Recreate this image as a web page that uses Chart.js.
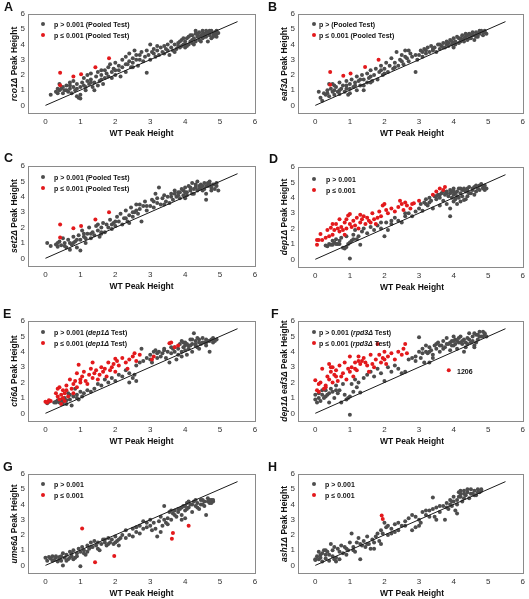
<!DOCTYPE html>
<html>
<head>
<meta charset="utf-8">
<script src="https://cdn.jsdelivr.net/npm/chart.js@4/dist/chart.umd.min.js"></script>
<style>
  body { margin: 0; background: #fff; font-family: "Liberation Sans", Arial, sans-serif; }
  #fig { position: relative; width: 529px; height: 599px; overflow: hidden; }
  .panel { position: absolute; width: 265px; height: 150px; }
  .txt { position: absolute; white-space: nowrap; font-weight: bold; color: #111; line-height: 1; }
  .dot { position: absolute; width: 4px; height: 4px; border-radius: 50%; }
</style>
</head>
<body>
<div id="fig"></div>
<script>
// tick labels on both axes
const xTicks = [0, 1, 2, 3, 4, 5, 6];
const yTicks = [0, 1, 2, 3, 4, 5, 6];
// y = x reference line, from 0 to 5.5
const refLine = [0, 5.5];

// A: rco1
const aGray = [[0.15,0.7],[0.3,0.9],[0.35,0.8],[0.4,1.0],[0.45,1.1],[0.5,0.8],[0.5,1.2],[0.4,1.4],[0.6,1.0],[0.6,1.3],[0.65,0.9],[0.7,1.1],[0.7,1.5],[0.75,0.8],[0.8,1.2],[0.8,1.6],[0.85,1.0],[0.9,1.4],[0.9,0.6],[0.95,0.5],[1.0,0.45],[1.0,0.7],[1.0,1.2],[1.05,1.5],[1.1,1.3],[1.1,1.8],[1.15,1.0],[1.2,1.6],[1.2,2.0],[1.25,1.4],[1.3,1.7],[1.3,2.1],[1.35,1.2],[1.4,1.5],[1.4,1.0],[1.45,1.9],[1.5,1.3],[1.5,2.2],[1.55,1.6],[1.6,2.0],[1.65,1.4],[1.7,1.8],[1.7,2.3],[1.75,2.1],[1.8,2.5],[1.8,1.9],[1.85,2.7],[1.9,2.2],[1.95,2.4],[2.0,2.0],[2.0,2.8],[2.1,2.3],[2.1,2.6],[2.15,1.9],[2.2,2.5],[2.2,3.0],[2.3,2.2],[2.3,3.2],[2.35,2.7],[2.4,2.9],[2.4,3.4],[2.45,2.5],[2.5,3.1],[2.5,2.8],[2.55,3.6],[2.6,3.3],[2.65,2.6],[2.7,3.0],[2.75,3.5],[2.8,2.9],[2.85,3.2],[2.9,2.15],[2.95,3.3],[3.0,3.0],[3.0,4.0],[3.05,3.5],[3.1,3.7],[3.15,3.2],[3.2,3.6],[3.25,3.3],[3.3,3.8],[3.35,3.5],[3.4,3.4],[3.45,3.7],[3.5,3.6],[3.5,4.0],[3.55,3.3],[3.6,3.8],[3.65,3.6],[3.7,4.0],[3.75,3.7],[3.8,4.1],[3.85,3.8],[3.9,3.9],[3.9,4.3],[3.95,4.0],[4.0,4.2],[4.0,3.8],[4.05,4.4],[4.1,4.0],[4.1,4.5],[4.15,4.2],[4.2,4.6],[4.2,4.1],[4.25,4.4],[4.3,4.7],[4.3,4.2],[4.35,4.5],[4.4,4.8],[4.4,4.3],[4.45,4.6],[4.5,4.4],[4.5,4.9],[4.55,4.7],[4.6,4.5],[4.6,4.9],[4.65,4.2],[4.7,4.8],[4.7,4.6],[4.75,4.9],[4.8,4.7],[4.8,4.5],[4.85,4.8],[4.9,4.7],[4.9,4.5],[4.95,4.75],
  [3.6,4.2],[3.7,3.5],[3.8,3.9],[3.95,4.4],[4.05,3.9],[4.15,4.6],[4.25,4.0],[4.35,4.7],[4.45,4.2],[4.55,4.5],[4.65,4.8],[4.75,4.4],[4.85,4.6],[4.6,4.7],[4.4,4.5],[4.2,4.3],[4.0,4.0],[3.85,4.2],[3.2,3.9],[3.1,3.4],[2.9,3.6],[2.6,3.0],[2.3,2.7],[2.0,2.3],[1.9,1.8],[1.6,1.7],[1.3,1.5],[1.15,1.2],[0.9,1.1],[0.7,1.3],[0.55,1.0],[0.35,1.1],[1.6,2.3],[2.5,2.5],[2.7,3.3],[3.4,3.9],[4.3,4.9],[4.5,4.7],[4.7,4.9],[4.9,4.9]];
const aRed = [[0.42,2.15],[0.42,1.32],[0.8,1.9],[1.02,2.05],[1.43,2.5],[1.82,3.1]];

// B: eaf3
const bGray = [[0.1,0.9],[0.15,0.5],[0.2,0.3],[0.25,0.8],[0.3,0.7],[0.35,1.0],[0.4,0.6],[0.45,1.1],[0.5,0.9],[0.5,1.4],[0.55,0.7],[0.6,1.2],[0.65,0.9],[0.7,1.5],[0.7,0.75],[0.75,1.1],[0.8,1.3],[0.85,0.9],[0.9,1.6],[0.9,1.1],[0.95,0.7],[1.0,1.4],[1.0,0.8],[1.05,1.7],[1.1,1.2],[1.15,1.5],[1.2,1.9],[1.2,1.0],[1.25,1.6],[1.3,1.3],[1.35,2.0],[1.4,1.0],[1.4,1.7],[1.5,1.5],[1.5,2.1],[1.55,1.8],[1.6,2.3],[1.65,1.6],[1.7,2.0],[1.75,2.4],[1.8,1.7],[1.85,2.2],[1.9,2.6],[1.95,2.0],[2.0,2.4],[2.05,2.8],[2.1,2.2],[2.15,2.6],[2.2,3.1],[2.25,2.4],[2.3,2.8],[2.35,3.5],[2.4,2.6],[2.45,3.0],[2.5,3.3],[2.55,2.7],[2.6,3.6],[2.65,3.1],[2.7,2.9],[2.75,3.4],[2.8,3.2],[2.9,2.2],[2.95,3.0],[3.0,3.3],[3.05,3.6],[3.1,3.2],[3.15,3.7],[3.2,3.4],[3.25,3.8],[3.3,3.5],[3.35,3.9],[3.4,3.6],[3.45,3.8],[3.5,3.5],[3.55,4.0],[3.6,3.7],[3.65,3.9],[3.7,4.1],[3.75,3.8],[3.8,4.2],[3.85,3.9],[3.9,4.3],[3.95,4.0],[4.0,4.4],[4.0,3.8],[4.05,4.2],[4.1,4.5],[4.15,4.1],[4.2,4.4],[4.25,4.6],[4.3,4.2],[4.35,4.5],[4.4,4.3],[4.45,4.7],[4.5,4.4],[4.55,4.6],[4.6,4.3],[4.65,4.8],[4.7,4.5],[4.75,4.7],[4.8,4.9],[4.85,4.6],[4.9,4.8],[4.95,4.7],[0.4,1.4],[0.55,1.3],
  [3.6,4.0],[3.7,3.8],[3.8,4.0],[3.95,4.2],[4.05,4.0],[4.15,4.4],[4.25,4.3],[4.35,4.7],[4.45,4.4],[4.55,4.8],[4.65,4.5],[4.75,4.9],[4.85,4.8],[4.6,4.6],[4.4,4.6],[4.2,4.2],[4.0,4.1],[3.85,4.1],[3.2,3.6],[3.1,3.5],[2.9,3.3],[2.6,3.2],[2.3,2.5],[2.0,2.1],[1.9,2.3],[1.6,1.9],[1.3,1.7],[1.15,1.3],[0.9,1.3],[0.7,1.0],[0.55,1.0],[0.35,0.8],[1.6,1.5],[2.5,2.9],[2.7,3.6],[3.4,3.7],[4.3,4.4],[4.5,4.6],[4.7,4.7],[4.9,4.9],[1.4,1.3],[1.0,1.1]];
const bRed = [[0.43,2.2],[0.43,1.35],[0.81,1.95],[1.02,2.1],[1.44,2.52],[1.83,3.0]];

// C: set2
const cGray = [[0.05,1.0],[0.15,0.8],[0.3,0.9],[0.35,0.75],[0.4,1.1],[0.45,0.85],[0.5,1.3],[0.55,1.0],[0.6,0.7],[0.65,1.2],[0.7,0.55],[0.75,0.9],[0.8,1.4],[0.85,1.1],[0.9,0.7],[0.95,1.5],[1.0,0.5],[1.0,1.2],[1.05,1.8],[1.1,1.4],[1.15,1.0],[1.2,1.6],[1.25,2.0],[1.3,1.3],[1.35,1.7],[1.4,1.5],[1.45,2.1],[1.5,1.8],[1.55,1.4],[1.6,2.0],[1.65,2.3],[1.7,1.7],[1.75,2.2],[1.8,2.0],[1.85,2.5],[1.9,1.9],[1.95,2.3],[2.0,2.1],[2.05,2.7],[2.1,2.4],[2.15,2.9],[2.2,2.2],[2.25,2.6],[2.3,3.1],[2.35,2.4],[2.4,2.8],[2.45,3.3],[2.5,2.7],[2.55,3.0],[2.6,3.5],[2.65,2.9],[2.7,3.2],[2.75,2.4],[2.8,3.4],[2.85,3.7],[2.9,3.1],[3.0,3.4],[3.05,3.8],[3.1,3.3],[3.15,4.2],[3.2,3.6],[3.25,4.6],[3.3,3.5],[3.35,3.9],[3.4,4.1],[3.45,3.7],[3.5,4.0],[3.55,3.6],[3.6,4.2],[3.65,3.8],[3.7,4.4],[3.75,4.0],[3.8,4.3],[3.85,3.9],[3.9,4.5],[3.95,4.1],[4.0,4.6],[4.0,3.9],[4.05,4.3],[4.1,4.7],[4.15,4.4],[4.2,4.9],[4.25,4.2],[4.3,4.6],[4.35,5.0],[4.4,4.5],[4.45,4.8],[4.5,4.4],[4.55,4.9],[4.6,4.2],[4.6,3.8],[4.65,4.7],[4.7,5.0],[4.75,4.6],[4.8,4.8],[4.85,4.5],[4.9,4.7],[4.95,4.4],[2.4,2.3],[1.5,2.2],
  [3.6,4.0],[3.7,4.2],[3.8,4.1],[3.95,4.4],[4.05,4.1],[4.15,4.6],[4.25,4.5],[4.35,4.4],[4.45,4.6],[4.55,4.5],[4.65,4.9],[4.75,4.4],[4.85,4.8],[4.6,4.7],[4.4,4.7],[4.2,4.2],[4.0,4.3],[3.85,4.3],[3.2,3.9],[3.1,3.7],[2.9,3.4],[2.6,3.1],[2.3,2.6],[2.0,2.4],[1.9,2.2],[1.6,1.7],[1.3,1.6],[1.15,1.3],[0.9,1.2],[0.7,1.0],[0.55,0.8],[0.35,1.0],[1.6,1.6],[2.5,3.0],[2.7,3.5],[3.4,3.5],[4.3,4.8],[4.5,4.7],[4.7,4.8],[4.9,4.9],[1.1,1.6],[0.8,1.0]];
const cRed = [[0.42,2.2],[0.42,1.35],[0.8,1.95],[1.02,2.1],[1.43,2.52],[1.82,3.0]];

// D: dep1
const dGray = [[0.3,0.9],[0.35,0.85],[0.4,1.0],[0.45,0.95],[0.5,1.2],[0.55,1.1],[0.6,1.3],[0.65,1.0],[0.7,1.2],[0.75,1.4],[0.8,0.75],[0.85,0.7],[0.9,0.8],[0.9,1.5],[0.95,1.0],[1.0,0.05],[1.0,1.1],[1.05,1.2],[1.1,1.6],[1.15,1.9],[1.2,1.3],[1.25,1.5],[1.3,0.95],[1.35,1.8],[1.4,2.0],[1.5,1.7],[1.6,2.1],[1.7,1.9],[1.8,2.2],[1.9,2.0],[2.0,1.5],[2.05,2.4],[2.1,1.9],[2.2,2.3],[2.3,2.7],[2.4,2.5],[2.5,2.4],[2.6,2.8],[2.7,3.0],[2.8,2.8],[2.9,3.1],[3.0,3.3],[3.05,3.6],[3.1,3.15],[3.15,3.7],[3.2,3.9],[3.25,3.5],[3.3,4.0],[3.35,3.8],[3.4,3.3],[3.45,4.1],[3.5,3.9],[3.55,4.2],[3.6,4.0],[3.65,4.3],[3.7,3.8],[3.75,4.2],[3.8,4.4],[3.85,4.1],[3.9,2.8],[3.9,3.3],[3.9,4.5],[3.95,4.0],[4.0,4.6],[4.0,4.2],[4.05,3.9],[4.1,4.4],[4.15,4.6],[4.2,4.3],[4.25,4.1],[4.3,4.5],[4.35,3.9],[4.4,4.4],[4.45,4.7],[4.5,4.3],[4.55,4.5],[4.6,4.7],[4.65,4.4],[4.7,4.6],[4.75,4.8],[4.8,4.9],[4.85,4.6],[4.9,4.5],[4.95,4.6],[4.0,3.75],[4.1,3.6],[4.2,3.75],[4.3,3.85],[4.4,4.1],[4.6,4.2],[3.8,3.6],[3.6,3.5],
  [3.8,4.3],[3.95,4.4],[4.05,4.3],[4.15,4.0],[4.25,4.5],[4.35,4.4],[4.45,4.3],[4.55,4.6],[4.65,4.8],[4.75,4.5],[4.85,4.7],[4.0,4.4],[4.2,4.6],[4.4,4.6],[3.7,4.4],[3.6,4.2],[3.5,4.1],[3.3,3.7],[3.2,3.6],[2.6,3.0],[2.2,2.5],[1.9,2.4],[0.6,1.0],[0.5,0.95],[0.7,1.0],[1.1,1.3],[4.9,4.8],[4.1,4.1],[3.9,4.3],[4.3,4.6]];
const dRed = [[0.05,1.25],[0.05,0.95],[0.1,1.25],[0.15,1.65],[0.2,1.25],[0.3,1.4],[0.35,1.9],[0.4,1.5],[0.45,2.05],[0.5,2.3],[0.5,1.6],[0.55,1.9],[0.6,2.3],[0.65,2.0],[0.7,2.6],[0.7,1.8],[0.75,2.1],[0.8,1.9],[0.85,2.4],[0.85,1.6],[0.9,2.6],[0.9,2.0],[0.95,2.85],[1.0,2.95],[1.0,2.3],[1.05,2.1],[1.1,2.5],[1.15,2.2],[1.2,2.7],[1.25,2.0],[1.3,2.9],[1.3,2.4],[1.35,2.6],[1.4,2.8],[1.45,2.3],[1.5,2.7],[1.55,2.5],[1.6,2.4],[1.65,3.0],[1.7,2.6],[1.75,2.3],[1.8,2.7],[1.85,3.1],[1.9,2.8],[1.95,3.5],[2.0,3.6],[2.05,3.2],[2.1,3.0],[2.2,3.3],[2.3,3.1],[2.4,3.4],[2.45,3.8],[2.5,3.6],[2.55,3.2],[2.6,3.7],[2.65,3.5],[2.75,3.3],[2.8,3.6],[2.85,3.65],[3.0,3.8],[3.4,4.2],[3.5,4.4],[3.6,4.6],[3.75,4.7],[3.7,4.5]];

// E: cti6
const eGray = [[0.05,0.65],[0.1,0.75],[0.3,0.75],[0.35,0.85],[0.4,0.7],[0.45,0.9],[0.5,0.75],[0.55,1.0],[0.6,0.6],[0.65,1.3],[0.7,0.9],[0.75,0.5],[0.8,1.1],[0.85,1.6],[0.9,1.2],[0.95,0.9],[1.0,1.4],[1.05,1.1],[1.1,1.3],[1.2,1.5],[1.3,1.4],[1.4,1.6],[1.5,1.9],[1.6,1.8],[1.7,2.2],[1.8,2.0],[1.9,2.3],[2.0,2.1],[2.1,2.5],[2.2,2.4],[2.3,2.8],[2.4,2.6],[2.5,2.3],[2.55,2.5],[2.6,3.1],[2.7,3.3],[2.75,4.2],[2.8,3.4],[2.9,3.6],[3.0,3.8],[3.05,3.3],[3.1,4.0],[3.15,4.1],[3.2,3.6],[3.25,4.0],[3.3,3.7],[3.35,3.9],[3.4,4.2],[3.45,3.6],[3.5,4.0],[3.6,3.9],[3.65,4.2],[3.7,4.0],[3.75,3.5],[3.8,4.2],[3.85,4.5],[3.9,4.7],[3.9,3.7],[3.95,4.3],[4.0,4.6],[4.0,4.1],[4.05,3.8],[4.1,4.4],[4.15,4.8],[4.2,4.5],[4.25,5.2],[4.3,4.7],[4.35,4.3],[4.4,4.8],[4.45,4.5],[4.5,4.9],[4.55,4.6],[4.6,4.4],[4.65,4.7],[4.7,4.0],[4.75,4.8],[4.8,4.6],[4.85,4.7],[4.9,4.8],[4.2,4.0],[4.4,4.2],[3.55,3.3],[3.8,3.8],[2.4,2.0],[2.6,2.1],[4.0,4.4],[4.3,4.4],[4.6,4.6],
  [3.9,4.0],[4.05,4.5],[4.1,4.2],[4.2,4.8],[4.3,4.5],[4.4,4.6],[4.5,4.6],[4.6,4.8],[4.7,4.7],[4.8,4.9],[3.95,4.6],[4.15,4.4],[3.7,4.3],[3.6,4.3],[3.4,4.1],[3.2,3.9],[3.0,3.5],[0.3,0.7],[0.6,0.85],[0.5,0.6],[0.25,0.7],[0.9,1.0],[0.7,1.2],[4.35,4.9]];
const eRed = [[0.0,0.75],[0.05,0.7],[0.1,0.85],[0.15,0.8],[0.3,1.3],[0.35,1.6],[0.35,1.1],[0.4,1.7],[0.4,0.9],[0.45,1.2],[0.5,1.5],[0.5,1.0],[0.55,1.3],[0.6,1.8],[0.65,1.1],[0.7,2.2],[0.75,1.6],[0.8,1.9],[0.8,1.3],[0.85,2.1],[0.9,2.6],[0.9,1.7],[0.95,3.15],[1.0,2.0],[1.05,2.4],[1.1,2.7],[1.15,2.1],[1.2,1.9],[1.25,2.5],[1.3,2.9],[1.35,2.3],[1.4,2.6],[1.45,2.8],[1.5,2.2],[1.55,2.5],[1.6,3.0],[1.65,2.7],[1.7,2.9],[1.75,2.4],[1.8,3.3],[1.85,2.8],[1.9,3.0],[1.95,3.2],[2.0,2.7],[2.05,3.4],[2.1,3.1],[2.2,3.6],[2.3,3.3],[2.35,2.9],[2.4,3.5],[2.5,3.7],[2.55,3.9],[2.6,3.4],[2.7,3.8],[3.05,3.5],[3.1,3.7],[3.55,4.55],[3.6,4.6],[3.7,4.3],[3.8,4.4],[2.0,3.55],[1.35,3.3],[1.0,2.2],[0.6,1.5],[0.45,0.6],[0.55,0.8]];

// F: dep1 eaf3
const fGray = [[0.0,1.2],[0.0,0.9],[0.05,0.7],[0.1,1.3],[0.15,0.8],[0.2,1.5],[0.25,1.0],[0.3,1.5],[0.35,1.2],[0.4,0.7],[0.45,1.6],[0.5,1.4],[0.55,1.0],[0.6,1.8],[0.65,1.3],[0.7,1.5],[0.75,0.7],[0.8,1.9],[0.85,1.2],[0.9,0.9],[0.95,1.0],[1.0,-0.1],[1.0,1.1],[1.05,1.9],[1.1,1.4],[1.15,2.2],[1.2,1.7],[1.25,2.0],[1.3,1.35],[1.4,2.3],[1.5,2.5],[1.6,2.7],[1.7,2.4],[1.8,2.9],[1.9,2.6],[2.0,2.1],[2.1,3.0],[2.2,2.7],[2.3,3.1],[2.4,2.9],[2.5,2.6],[2.6,2.7],[2.7,3.5],[2.8,3.6],[2.9,3.7],[3.0,4.0],[3.05,3.6],[3.1,4.2],[3.15,3.3],[3.2,4.0],[3.25,3.9],[3.3,4.3],[3.35,4.1],[3.4,3.8],[3.45,4.4],[3.5,4.2],[3.55,4.6],[3.6,4.0],[3.65,4.4],[3.7,4.7],[3.75,4.3],[3.8,4.9],[3.85,4.5],[3.9,4.1],[3.95,4.7],[4.0,5.0],[4.0,4.4],[4.05,4.8],[4.1,4.2],[4.15,4.6],[4.2,5.0],[4.25,4.5],[4.3,4.8],[4.35,4.3],[4.4,4.9],[4.45,5.2],[4.5,4.6],[4.55,5.0],[4.6,4.4],[4.65,5.1],[4.7,4.8],[4.75,5.3],[4.8,5.0],[4.85,5.3],[4.9,5.1],[4.95,5.0],[3.0,4.95],[2.9,3.4],[3.3,3.3],[3.4,3.6],[4.3,4.0],[4.6,4.3],[4.1,4.7],[3.9,4.6],
  [3.6,4.4],[3.7,4.2],[3.8,4.5],[3.95,4.4],[4.05,4.5],[4.15,4.9],[4.25,4.7],[4.35,4.6],[4.45,4.8],[4.55,4.7],[4.65,4.6],[4.75,5.0],[4.85,5.0],[4.6,5.2],[4.4,4.5],[4.2,4.6],[4.0,4.7],[3.5,4.5],[3.3,4.0],[3.2,4.4],[3.1,3.9],[0.2,1.2],[0.4,1.3],[0.6,1.5],[0.3,1.1],[0.1,1.0],[4.9,5.2],[4.7,5.1]];
const fRed = [[0.0,2.15],[0.05,1.5],[0.1,1.9],[0.1,1.4],[0.15,2.0],[0.2,2.9],[0.25,1.6],[0.3,1.8],[0.35,2.4],[0.4,3.2],[0.4,2.2],[0.45,2.7],[0.5,3.0],[0.5,2.0],[0.55,2.5],[0.6,2.8],[0.65,2.1],[0.7,3.1],[0.75,2.4],[0.8,2.6],[0.85,3.3],[0.9,2.2],[0.95,2.9],[1.0,3.7],[1.0,2.7],[1.05,3.0],[1.1,2.4],[1.15,3.3],[1.2,2.8],[1.25,3.4],[1.3,3.2],[1.35,3.4],[1.4,3.6],[1.45,3.3],[1.5,3.1],[1.55,2.7],[1.6,3.8],[1.65,3.2],[1.7,3.0],[1.75,3.5],[1.8,4.5],[1.85,3.8],[1.9,3.3],[1.95,3.6],[2.0,4.0],[2.05,3.2],[2.1,3.7],[2.2,3.9],[2.3,3.5],[2.4,4.0],[2.5,3.8],[2.55,4.2],[2.6,4.5],[2.65,3.9],[1.25,3.7],[0.3,1.7],[0.6,2.4],[0.45,3.0],[1.15,2.9],[2.0,3.5],[3.86,2.8]];

// G: ume6
const gGray = [[0.0,0.5],[0.05,0.3],[0.1,0.55],[0.15,0.45],[0.2,0.6],[0.25,0.35],[0.3,0.5],[0.35,0.25],[0.4,0.55],[0.45,0.6],[0.45,0.3],[0.5,0.0],[0.5,0.8],[0.55,0.5],[0.6,0.7],[0.65,0.4],[0.7,0.9],[0.75,0.6],[0.8,1.0],[0.85,0.5],[0.9,0.8],[0.95,1.1],[1.0,0.9],[1.0,-0.05],[1.05,1.2],[1.1,1.0],[1.15,0.7],[1.2,1.3],[1.25,1.1],[1.3,1.5],[1.35,1.2],[1.4,1.6],[1.45,1.3],[1.5,1.1],[1.55,1.0],[1.6,1.4],[1.65,1.7],[1.7,1.5],[1.75,1.3],[1.8,1.8],[1.85,1.5],[1.9,1.7],[1.95,1.4],[2.0,1.9],[2.05,1.6],[2.1,1.3],[2.15,1.8],[2.2,2.0],[2.3,2.3],[2.4,2.0],[2.5,2.4],[2.6,2.2],[2.7,2.6],[2.8,2.9],[2.9,2.5],[3.0,2.6],[3.05,2.3],[3.1,2.8],[3.15,2.4],[3.2,1.9],[3.25,2.9],[3.3,3.2],[3.35,2.6],[3.4,3.9],[3.45,2.8],[3.5,3.1],[3.55,3.5],[3.6,3.0],[3.65,3.4],[3.7,3.6],[3.75,3.2],[3.8,3.5],[3.85,3.7],[3.9,3.3],[3.95,3.9],[4.0,3.6],[4.05,4.1],[4.1,3.8],[4.15,4.0],[4.2,3.5],[4.25,4.2],[4.3,3.9],[4.35,4.1],[4.4,3.7],[4.45,4.3],[4.5,4.0],[4.55,4.2],[4.6,3.3],[4.65,4.4],[4.7,4.1],[4.75,4.3],[4.8,4.2],[3.3,2.2],[2.5,1.9],[2.7,2.1],[3.9,3.0],[4.0,3.1],[0.6,0.3],[0.3,0.6],[0.8,0.4],
  [3.8,3.7],[3.9,3.8],[4.0,3.9],[4.05,3.7],[4.1,4.2],[4.2,4.0],[4.3,4.3],[4.35,3.8],[4.45,4.0],[4.5,4.3],[4.55,3.9],[4.65,4.2],[4.7,4.3],[4.75,4.1],[3.7,3.3],[3.5,2.7],[3.6,3.6],[3.4,3.0],[0.7,0.5],[0.75,0.8],[0.9,0.6],[1.1,0.8],[1.3,1.2],[1.5,1.5],[1.7,1.7],[2.0,1.5],[2.1,1.7],[2.3,1.8],[2.6,2.5],[2.8,2.4],[2.9,2.8],[3.0,3.0],[1.8,1.4],[0.4,0.4],[0.2,0.3],[1.2,0.9],[4.8,4.3]];
const gRed = [[1.05,2.42],[1.42,0.2],[1.97,0.62],[3.62,1.75],[3.65,2.12],[4.1,2.6]];

// H: ash1
const hGray = [[0.0,0.4],[0.0,0.35],[0.05,0.6],[0.1,0.9],[0.15,0.5],[0.2,0.8],[0.25,1.0],[0.3,0.7],[0.35,0.9],[0.4,0.3],[0.45,1.4],[0.5,0.6],[0.55,1.2],[0.6,0.5],[0.65,1.1],[0.7,0.4],[0.75,1.3],[0.8,0.8],[0.85,1.2],[0.9,0.7],[0.95,1.0],[1.0,1.5],[1.05,2.1],[1.1,1.2],[1.15,0.9],[1.2,1.5],[1.25,1.8],[1.3,0.4],[1.35,1.3],[1.4,1.6],[1.45,1.2],[1.5,1.9],[1.55,1.4],[1.6,1.1],[1.65,1.7],[1.7,1.5],[1.75,1.9],[1.8,2.1],[1.85,1.6],[1.9,2.3],[2.0,2.8],[2.05,2.5],[2.1,2.0],[2.2,2.4],[2.3,2.7],[2.4,2.3],[2.5,2.6],[2.6,2.9],[2.7,3.1],[2.8,3.3],[2.9,2.5],[3.0,3.0],[3.05,2.8],[3.1,3.5],[3.2,3.3],[3.3,3.6],[3.4,4.45],[3.45,3.2],[3.5,3.8],[3.6,3.5],[3.7,3.9],[3.75,3.0],[3.8,4.1],[3.85,3.7],[3.9,4.3],[3.95,3.9],[4.0,4.2],[4.05,3.6],[4.1,4.0],[4.15,4.8],[4.2,4.5],[4.25,4.2],[4.3,4.9],[4.35,4.6],[4.4,4.8],[4.45,4.4],[4.5,5.0],[4.55,4.7],[4.6,4.9],[4.65,4.6],[4.7,5.0],[4.75,4.8],[4.8,4.9],[4.2,4.7],[4.3,4.4],[4.1,3.4],[1.9,1.4],[2.3,2.2],[2.8,2.3],[3.0,2.6],[3.5,3.0],[0.3,0.45],[0.2,0.25],[0.6,0.25],[0.55,0.4],
  [3.9,4.0],[4.0,4.5],[4.1,4.3],[4.2,4.9],[4.3,4.7],[4.4,5.0],[4.5,4.7],[4.6,4.6],[4.7,4.8],[4.8,5.0],[4.15,4.5],[3.95,4.2],[3.8,3.8],[3.6,3.9],[3.4,3.7],[3.3,3.2],[3.2,3.6],[2.9,3.2],[2.6,2.6],[2.4,2.8],[2.2,2.1],[2.1,2.6],[1.95,2.1],[1.7,1.1],[1.5,1.4],[1.3,1.4],[1.1,1.0],[0.9,1.1],[0.7,0.9],[0.5,1.0],[0.4,0.7],[0.15,0.7],[0.1,0.4],[0.3,1.0]];
const hRed = [[1.92,3.28],[1.95,3.05]];

const GRAY = '#4d4d4d';
const RED = '#e3191c';
const fig = document.getElementById('fig');

const panels = [
  { id: 'A', x: 0,   y: 0,   box: [28, 255, 14, 113], gray: aGray, red: aRed, gene: 'rco1Δ', lt: [4, 1],
    leg: ['p &gt; 0.001 (Pooled Test)', 'p ≤ 0.001 (Pooled Test)'], legPos: [43, 24, 54] },
  { id: 'B', x: 264, y: 0,   box: [34, 262, 14, 113], gray: bGray, red: bRed, gene: 'eaf3Δ', lt: [4, 1],
    leg: ['p &gt; (Pooled Test)', 'p ≤ 0.001 (Pooled Test)'], legPos: [50, 24, 55] },
  { id: 'C', x: 0,   y: 150, box: [28, 255, 16, 116], gray: cGray, red: cRed, gene: 'set2Δ', lt: [4, 2],
    leg: ['p &gt; 0.001 (Pooled Test)', 'p ≤ 0.001 (Pooled Test)'], legPos: [43, 27, 54] },
  { id: 'D', x: 264, y: 150, box: [34, 262, 17, 117], gray: dGray, red: dRed, gene: 'dep1Δ', lt: [5, 3],
    leg: ['p &gt; 0.001', 'p ≤ 0.001'], legPos: [50, 29, 62] },
  { id: 'E', x: 0,   y: 300, box: [28, 255, 21, 121], gray: eGray, red: eRed, gene: 'cti6Δ', lt: [3, 8],
    leg: ['p &gt; 0.001 (<i>dep1Δ</i> Test)', 'p ≤ 0.001 (<i>dep1Δ</i> Test)'], legPos: [43, 32, 54] },
  { id: 'F', x: 264, y: 300, box: [34, 262, 21, 121], gray: fGray, red: fRed, gene: 'dep1Δ eaf3Δ', lt: [7, 8],
    leg: ['p &gt; 0.001 (<i>rpd3Δ</i> Test)', 'p ≤ 0.001 (<i>rpd3Δ</i> Test)'], legPos: [50, 32, 55] },
  { id: 'G', x: 0,   y: 450, box: [28, 255, 24, 123], gray: gGray, red: gRed, gene: 'ume6Δ', lt: [3, 11],
    leg: ['p &gt; 0.001', 'p ≤ 0.001'], legPos: [43, 34, 54] },
  { id: 'H', x: 264, y: 450, box: [34, 262, 24, 123], gray: hGray, red: hRed, gene: 'ash1Δ', lt: [4, 11],
    leg: ['p &gt; 0.001', 'p ≤ 0.001'], legPos: [50, 34, 61] }
];

function addText(html, x, y, css) {
  const d = document.createElement('div');
  d.className = 'txt';
  d.innerHTML = html;
  d.style.left = x + 'px';
  d.style.top = y + 'px';
  Object.assign(d.style, css || {});
  fig.appendChild(d);
  return d;
}

function addDot(x, y, color) {
  const d = document.createElement('div');
  d.className = 'dot';
  d.style.left = (x - 2) + 'px';
  d.style.top = (y - 2) + 'px';
  d.style.background = color;
  fig.appendChild(d);
}

const frame = {
  id: 'frame',
  afterDraw(chart) {
    const a = chart.chartArea;
    const c = chart.ctx;
    c.save();
    c.strokeStyle = '#8a8a8a';
    c.lineWidth = 1;
    c.strokeRect(Math.round(a.left) + 0.5, Math.round(a.top) + 0.5, Math.round(a.right - a.left), Math.round(a.bottom - a.top));
    c.restore();
  }
};

const toXY = arr => arr.map(p => ({ x: p[0], y: p[1] }));

panels.forEach(p => {
  const [bl, br, bt, bb] = p.box;
  const wrap = document.createElement('div');
  wrap.className = 'panel';
  wrap.style.left = p.x + 'px';
  wrap.style.top = p.y + 'px';
  const cv = document.createElement('canvas');
  cv.width = 265; cv.height = 150;
  wrap.appendChild(cv);
  fig.appendChild(wrap);

  const tickFont = { family: '"Liberation Sans", Arial, sans-serif', size: 8 };

  new Chart(cv.getContext('2d'), {
    type: 'scatter',
    data: {
      datasets: [
        { type: 'line', data: refLine.map(v => ({ x: v, y: v })), borderColor: '#1a1a1a', borderWidth: 1,
          pointRadius: 0, fill: false, order: 0 },
        { data: toXY(p.red), backgroundColor: RED, borderWidth: 0, pointRadius: 2, order: 1 },
        { data: toXY(p.gray), backgroundColor: GRAY, borderWidth: 0, pointRadius: 2, order: 2 }
      ]
    },
    options: {
      responsive: false,
      animation: false,
      events: [],
      layout: { padding: { left: 0, right: 265 - br, top: bt, bottom: 150 - bb - 14 } },
      plugins: { legend: { display: false }, tooltip: { enabled: false } },
      scales: {
        x: {
          type: 'linear', min: -0.5, max: 6,
          afterBuildTicks: s => { s.ticks = xTicks.map(v => ({ value: v })); },
          afterFit: s => { s.height = 14; },
          grid: { display: false, drawTicks: false },
          border: { display: false },
          ticks: { font: tickFont, color: '#333', padding: 4, maxRotation: 0 }
        },
        y: {
          type: 'linear', min: -0.5, max: 6,
          afterBuildTicks: s => { s.ticks = yTicks.map(v => ({ value: v })); },
          afterFit: s => { s.width = bl; },
          grid: { display: false, drawTicks: false },
          border: { display: false },
          ticks: { font: tickFont, color: '#333', padding: 3 }
        }
      }
    },
    plugins: [frame]
  });

  // panel letter
  addText(p.id, p.x + p.lt[0], p.y + p.lt[1], { fontSize: '12.5px', fontFamily: '"Liberation Sans", Arial, sans-serif' });

  // x title
  addText('WT Peak Height', p.x + (bl + br) / 2, p.y + bb + 19.5,
    { fontSize: '8.5px', transform: 'translate(-50%, -50%)' });

  // y title (gene name in italics)
  const yx = p.x + (p.x === 0 ? 14 : 20);
  addText('<i>' + p.gene + '</i> Peak Height', yx, p.y + (bt + bb) / 2,
    { fontSize: '8.5px', transform: 'translate(-50%, -50%) rotate(-90deg)' });

  // legend
  const [dx, dy, tx] = p.legPos;
  [GRAY, RED].forEach((col, i) => {
    const yy = p.y + dy + i * 11;
    addDot(p.x + dx, yy, col);
    addText(p.leg[i], p.x + tx, yy, { fontSize: '7px', transform: 'translateY(-50%)' });
  });
});

// label on the outlier in panel F
addText('1206', 264 + 193, 300 + 71, { fontSize: '7px', transform: 'translateY(-50%)' });
</script>
</body>
</html>
